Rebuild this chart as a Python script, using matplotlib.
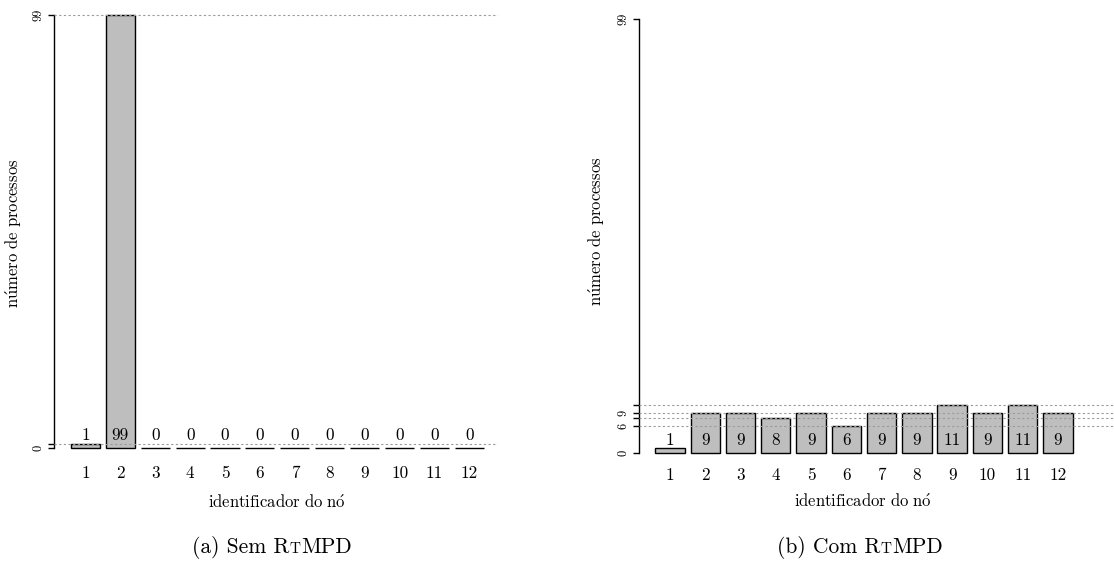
import matplotlib
matplotlib.use("Agg")
import matplotlib.pyplot as plt
from matplotlib.offsetbox import TextArea, HPacker, AnnotationBbox

plt.rcParams['font.family'] = ['cmr10', 'DejaVu Serif']
plt.rcParams['mathtext.fontset'] = 'cm'
plt.rcParams['axes.unicode_minus'] = False

# ---- data ----
nodes = list(range(1, 13))
node_labels = [str(n) for n in nodes]
sem_rtmpd = [1, 99, 0, 0, 0, 0, 0, 0, 0, 0, 0, 0]
com_rtmpd = [1, 9, 9, 8, 9, 6, 9, 9, 11, 9, 11, 9]
sem_yticks = [0, 1, 99]
sem_yticklabels = ['0', '', '99']
sem_refs = [1, 99]
com_yticks = [0, 6, 8, 9, 11, 99]
com_yticklabels = ['0', '6', '', '9', '', '99']
com_refs = [6, 8, 9, 11]
xlabel = r'$\mathrm{identificador\ do\ n\acute{o}}$'
ylabel = r'$\mathrm{n\acute{u}mero\ de\ processos}$'

W, H = 1114, 568
fig = plt.figure(figsize=(W / 100, H / 100), dpi=100)

def px_axes(left, right, bottom, top):
    return fig.add_axes([left / W, 1 - bottom / H, (right - left) / W, (bottom - top) / H])

def panel(ax, values, yticks, yticklabels, refs, xlim, xpad):
    ax.bar(nodes, values, width=0.833, color='#bebebe', edgecolor='black',
           linewidth=1.0, zorder=2)
    for r in refs:
        ax.axhline(r, color='#9a9a9a', lw=0.8, ls=(0, (2, 2.2)), zorder=3)
    for x, v in zip(nodes, values):
        ax.text(x, 2.8, str(v), ha='center', va='center', fontsize=12.3, zorder=4)
    ax.set_xlim(*xlim)
    ax.set_ylim(-3.96, 102.96)
    for s in ['top', 'right', 'bottom']:
        ax.spines[s].set_visible(False)
    ax.spines['left'].set_bounds(0, 99)
    ax.spines['left'].set_linewidth(1.0)
    ax.set_yticks(yticks)
    ax.set_yticklabels(yticklabels, rotation=90, va='center', fontsize=9)
    ax.tick_params(axis='y', length=4.3, width=1.0, pad=2.5)
    ax.set_xticks(nodes)
    ax.set_xticklabels(node_labels, fontsize=12.3)
    ax.tick_params(axis='x', length=0, pad=xpad)
    ax.patch.set_visible(False)

ax1 = px_axes(54, 498, 465.3, -2.3)
panel(ax1, sem_rtmpd, sem_yticks, sem_yticklabels, sem_refs, (0.10, 12.82), 0.4)

ax2 = px_axes(638.7, 1114 + 40, 470.05, 1.65)
panel(ax2, com_rtmpd, com_yticks, com_yticklabels, com_refs,
      (0.113, 0.113 + (1154 - 638.7) / 35.27), -1.4)

def ftext(x, y, s, **kw):
    fig.text(x / W, 1 - y / H, s, **kw)

ftext(14, 233, ylabel, rotation=90, ha='center', va='center', fontsize=12)
ftext(597, 231, ylabel, rotation=90, ha='center', va='center', fontsize=12)
ftext(277, 502, xlabel, ha='center', va='center', fontsize=12)
ftext(863, 501, xlabel, ha='center', va='center', fontsize=12)

def caption(xc, ybase, prefix):
    big = dict(fontsize=15.5, family=['cmr10', 'DejaVu Serif'])
    small = dict(fontsize=11, family=['cmr10', 'DejaVu Serif'])
    parts = [TextArea(prefix + ' R', textprops=big),
             TextArea('T', textprops=small),
             TextArea('MPD', textprops=big)]
    box = HPacker(children=parts, align='baseline', pad=0, sep=0)
    ab = AnnotationBbox(box, (xc, H - ybase), xycoords='figure pixels',
                        box_alignment=(0.5, 0.2), frameon=False, pad=0)
    fig.add_artist(ab)

caption(272, 554, '(a) Sem')
caption(860, 554, '(b) Com')

fig.savefig('out.png', dpi=100)
